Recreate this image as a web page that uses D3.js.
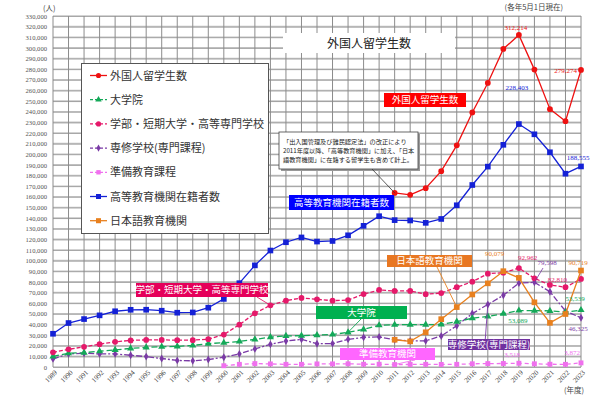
<!DOCTYPE html>
<html>
<head>
<meta charset="utf-8">
<script src="https://cdn.jsdelivr.net/npm/d3@7"></script>
<style>
body { margin: 0; background: #fff; }
svg { display: block; }
.num { font-family: "Liberation Serif", "DejaVu Serif", serif; }
.jp { font-family: "Noto Sans CJK JP", sans-serif; }
</style>
</head>
<body>
<div id="chart"></div>
<script>
// years on the x axis
var years = [1989, 1990, 1991, 1992, 1993, 1994, 1995, 1996, 1997, 1998,
             1999, 2000, 2001, 2002, 2003, 2004, 2005, 2006, 2007, 2008,
             2009, 2010, 2011, 2012, 2013, 2014, 2015, 2016, 2017, 2018,
             2019, 2020, 2021, 2022, 2023];

// series values (people), null = not counted that year
var totalStudents = [null, null, null, null, null, null, null, null, null, null,
                     null, null, null, null, null, null, null, null, null, null,
                     null, null, 163697, 161848, 168145, 184155, 208379, 239287, 267042, 298980,
                     312214, 279597, 242444, 231146, 279274];
var graduate = [10000, 12900, 13500, 14800, 16000, 17500, 18500, 19000, 19400, 20300,
                22000, 22800, 24000, 26000, 28000, 29200, 29500, 30000, 30500, 32600,
                35400, 39200, 39700, 39800, 39800, 40000, 42600, 45800, 47500, 50200,
                53089, 53000, 52800, 51500, 53539];
var undergrad = [13800, 16600, 19000, 21500, 23700, 25000, 25500, 25500, 25200, 25200,
                 26200, 30500, 39800, 50500, 58000, 62400, 64900, 63600, 62400, 62900,
                 68600, 72400, 71500, 71500, 68400, 69500, 75000, 80200, 87700, 88700,
                 92962, 83400, 77100, 75000, 82810];
var vocational = [7600, 12300, 12900, 12300, 12300, 11000, 9800, 8000, 6200, 5800,
                  7000, 9200, 12300, 17000, 21300, 24400, 26000, 21900, 22000, 26000,
                  27900, 28300, 25500, 24600, 24600, 29200, 38800, 50235, 58771, 67475,
                  78844, 79598, 70800, 52600, 46325];
var prepCourse = [null, null, null, null, null, null, null, null, null, null,
                  null, 1200, 2500, 3200, 2900, 2500, 2500, 2900, 2900, 3000,
                  2600, 2600, 2300, 2400, 2500, 2400, 2500, 3000, 3200, 3300,
                  3518, 3000, 2600, 2500, 3872];
var higherEd = [31251, 41347, 45066, 48561, 52405, 53787, 53847, 52921, 51047, 51298,
                55755, 64011, 78812, 95550, 109508, 117302, 121812, 117927, 118498, 123829,
                132720, 141774, 138075, 137756, 135519, 139185, 152062, 171122, 188384, 208901,
                228403, 218783, 201877, 181741, 188555];
var langSchool = [null, null, null, null, null, null, null, null, null, null,
                  null, null, null, null, null, null, null, null, null, null,
                  null, null, 25622, 24092, 32626, 44970, 56317, 68165, 78658, 90079,
                  83811, 60814, 41500, 49800, 90719];

var yTicks = [0, 10000, 20000, 30000, 40000, 50000, 60000, 70000, 80000, 90000, 100000,
              110000, 120000, 130000, 140000, 150000, 160000, 170000, 180000, 190000, 200000,
              210000, 220000, 230000, 240000, 250000, 260000, 270000, 280000, 290000, 300000,
              310000, 320000, 330000];

var legendNames = ["外国人留学生数", "大学院", "学部・短期大学・高等専門学校", "専修学校(専門課程)",
                   "準備教育課程", "高等教育機関在籍者数", "日本語教育機関"];

// styling for each series (same order as legendNames)
var series = [
  {values: totalStudents, color: "#ee1111", dash: null, symbol: d3.symbolCircle, size: 26},
  {values: graduate, color: "#14a858", dash: "6,3", symbol: d3.symbolTriangle, size: 22},
  {values: undergrad, color: "#e5196a", dash: "4,2", symbol: d3.symbolCircle, size: 26},
  {values: vocational, color: "#7a3aa6", dash: "6,2,2,2", symbol: d3.symbolDiamond, size: 18},
  {values: prepCourse, color: "#f070ee", dash: "4,3", symbol: d3.symbolSquare, size: 24},
  {values: higherEd, color: "#1421d6", dash: null, symbol: d3.symbolSquare, size: 32},
  {values: langSchool, color: "#e8801e", dash: null, symbol: d3.symbolSquare, size: 32}
];
var drawOrder = [4, 3, 1, 2, 6, 5, 0];

var W = 601, H = 398;
var svg = d3.select("#chart").append("svg")
    .attr("width", W)
    .attr("height", H);

var x = d3.scaleLinear().domain([1989, 2023]).range([53, 581]);
var y = d3.scaleLinear().domain([0, 330000]).range([367, 16]);

// horizontal grid (light band + thin line)
svg.append("g")
    .selectAll("line")
    .data(yTicks)
    .enter()
    .append("line")
    .attr("x1", x(1989)).attr("x2", x(2023))
    .attr("y1", function(d) { return y(d); })
    .attr("y2", function(d) { return y(d); })
    .attr("stroke", "#c4c4c4")
    .attr("stroke-width", 1.6);

// vertical grid
svg.append("g")
    .selectAll("line")
    .data(years)
    .enter()
    .append("line")
    .attr("x1", function(d) { return x(d); })
    .attr("x2", function(d) { return x(d); })
    .attr("y1", y(330000)).attr("y2", y(0))
    .attr("stroke", "#8c8c8c")
    .attr("stroke-width", 1);

svg.append("g")
    .selectAll("line")
    .data(yTicks)
    .enter()
    .append("line")
    .attr("x1", x(1989)).attr("x2", x(2023))
    .attr("y1", function(d) { return y(d) + 0.5; })
    .attr("y2", function(d) { return y(d) + 0.5; })
    .attr("stroke", "#8c8c8c")
    .attr("stroke-width", 0.6);

// y axis labels
var yAxis = svg.append("g")
    .attr("transform", "translate(" + x(1989) + ",0)")
    .call(d3.axisLeft(y).tickValues(yTicks).tickFormat(d3.format(",")).tickSize(0).tickPadding(6));
yAxis.select(".domain").remove();
yAxis.selectAll("text")
    .attr("class", "num")
    .style("font-size", "6.6px")
    .attr("fill", "#555");

// x axis labels
var xAxis = svg.append("g")
    .attr("transform", "translate(0," + y(0) + ")")
    .call(d3.axisBottom(x).tickValues(years).tickFormat(d3.format("d")).tickSize(0));
xAxis.select(".domain").remove();
xAxis.selectAll("text")
    .attr("class", "num")
    .style("font-size", "7px")
    .attr("fill", "#444")
    .style("text-anchor", "end")
    .attr("dx", "-0.2em")
    .attr("dy", "0.6em")
    .attr("transform", "rotate(-45)");

// title box
svg.append("rect")
    .attr("x", 283).attr("y", 33).attr("width", 172).attr("height", 20)
    .attr("fill", "#fff");
svg.append("text")
    .attr("class", "jp")
    .attr("x", 369).attr("y", 47.5)
    .attr("text-anchor", "middle")
    .style("font-size", "12px")
    .attr("fill", "#222")
    .text("外国人留学生数");

svg.append("text").attr("class", "jp")
    .attr("x", 43).attr("y", 11)
    .style("font-size", "7.5px").attr("fill", "#444")
    .text("(人)");
svg.append("text").attr("class", "jp")
    .attr("x", 563).attr("y", 10).attr("text-anchor", "end")
    .style("font-size", "7.5px").attr("fill", "#444")
    .text("(各年5月1日現在)");
svg.append("text").attr("class", "jp")
    .attr("x", 584).attr("y", 393).attr("text-anchor", "end")
    .style("font-size", "7.5px").attr("fill", "#444")
    .text("(年度)");

// lines and markers
drawOrder.forEach(function(i) {
    var s = series[i];
    var pts = years.map(function(yr, j) { return {year: yr, value: s.values[j]}; })
        .filter(function(d) { return d.value != null; });
    svg.append("path")
        .datum(pts)
        .attr("fill", "none")
        .attr("stroke", s.color)
        .attr("stroke-width", 1.3)
        .attr("stroke-dasharray", s.dash)
        .attr("d", d3.line()
            .x(function(d) { return x(d.year); })
            .y(function(d) { return y(d.value); }));
    svg.append("g")
        .selectAll("path")
        .data(pts)
        .enter()
        .append("path")
        .attr("transform", function(d) { return "translate(" + x(d.year) + "," + y(d.value) + ")"; })
        .attr("d", d3.symbol().type(s.symbol).size(s.size))
        .attr("fill", s.color);
});

// legend
var lg = svg.append("g");
lg.append("rect")
    .attr("x", 81.5).attr("y", 63.5).attr("width", 187).attr("height", 170)
    .attr("fill", "#fff").attr("stroke", "#555").attr("stroke-width", 1);
legendNames.forEach(function(name, i) {
    var s = series[i];
    var ly = 75.5 + i * 24.2;
    lg.append("line")
        .attr("x1", 90).attr("x2", 107).attr("y1", ly).attr("y2", ly)
        .attr("stroke", s.color).attr("stroke-width", 1.3)
        .attr("stroke-dasharray", s.dash ? "3,2" : null);
    lg.append("path")
        .attr("transform", "translate(98.5," + ly + ")")
        .attr("d", d3.symbol().type(s.symbol).size(s.size * 0.8))
        .attr("fill", s.color);
    lg.append("text")
        .attr("class", "jp")
        .attr("x", 110).attr("y", ly + 4)
        .style("font-size", "11px")
        .attr("fill", "#333")
        .text(name);
});

// note box with shadow
svg.append("rect")
    .attr("x", 281).attr("y", 134).attr("width", 139).attr("height", 37)
    .attr("fill", "#999");
svg.append("rect")
    .attr("x", 279).attr("y", 132).attr("width", 139).attr("height", 37)
    .attr("fill", "#fff").attr("stroke", "#444").attr("stroke-width", 0.8);
var noteLines = ["「出入国管理及び難民認定法」の改正により",
                 "2011年度以降、「高等教育機関」に加え、「日本",
                 "語教育機関」に在籍する留学生も含めて計上。"];
noteLines.forEach(function(t, i) {
    svg.append("text").attr("class", "jp")
        .attr("x", 283).attr("y", 144 + i * 9)
        .style("font-size", "6.2px").attr("fill", "#222")
        .text(t);
});
svg.append("line")
    .attr("x1", 372).attr("y1", 169)
    .attr("x2", x(2011)).attr("y2", y(163697))
    .attr("stroke", "#333").attr("stroke-width", 0.8);

// leader lines to the callouts
var leaders = [
    {x1: 257, y1: 297, year: 2003, value: 58000, color: "#e5196a"},
    {x1: 361, y1: 319, year: 2008, value: 32600, color: "#14a858"},
    {x1: 437, y1: 267, year: 2015, value: 56317, color: "#e8801e"},
    {x1: 485, y1: 343, year: 2017, value: 58771, color: "#7a3aa6"},
    {x1: 415, y1: 360, year: 2011, value: 2300, color: "#f070ee"}
];
leaders.forEach(function(l) {
    svg.append("line")
        .attr("x1", l.x1).attr("y1", l.y1)
        .attr("x2", x(l.year)).attr("y2", y(l.value))
        .attr("stroke", l.color).attr("stroke-width", 0.9);
});

// coloured callouts
var callouts = [
    {text: "外国人留学生数", x: 384, y: 93, w: 82, h: 14, fill: "#ff0000"},
    {text: "高等教育機関在籍者数", x: 289, y: 195, w: 105, h: 15, fill: "#0000ff"},
    {text: "学部・短期大学・高等専門学校", x: 136, y: 283, w: 132, h: 14, fill: "#e5005a"},
    {text: "大学院", x: 316, y: 306, w: 91, h: 13, fill: "#00b050"},
    {text: "日本語教育機関", x: 387, y: 255, w: 85, h: 12, fill: "#e87722"},
    {text: "準備教育機関", x: 340, y: 348, w: 95, h: 12, fill: "#ff66ff"},
    {text: "専修学校(専門課程)", x: 448, y: 339, w: 82, h: 11, fill: "#7030a0"}
];
callouts.forEach(function(c) {
    svg.append("rect")
        .attr("x", c.x).attr("y", c.y).attr("width", c.w).attr("height", c.h)
        .attr("fill", c.fill);
    svg.append("text").attr("class", "jp")
        .attr("x", c.x + c.w / 2).attr("y", c.y + c.h / 2 + 3.3)
        .attr("text-anchor", "middle")
        .style("font-size", "9.5px")
        .attr("fill", "#fff")
        .text(c.text);
});

// value labels
var valueLabels = [
    {si: 0, year: 2019, anchor: "middle", dx: -3, dy: -5},
    {si: 0, year: 2023, anchor: "end", dx: -4, dy: 3},
    {si: 5, year: 2019, anchor: "middle", dx: -2, dy: -34},
    {si: 5, year: 2023, anchor: "middle", dx: -3, dy: -6},
    {si: 6, year: 2018, anchor: "end", dx: 1, dy: -15},
    {si: 2, year: 2019, anchor: "start", dx: -1, dy: -8},
    {si: 3, year: 2020, anchor: "start", dx: 3, dy: -17},
    {si: 6, year: 2023, anchor: "middle", dx: -3, dy: -6},
    {si: 2, year: 2023, anchor: "end", dx: -14, dy: 3},
    {si: 1, year: 2023, anchor: "middle", dx: -6, dy: -9},
    {si: 1, year: 2019, anchor: "middle", dx: -1, dy: 12},
    {si: 3, year: 2023, anchor: "middle", dx: -3, dy: 13},
    {si: 4, year: 2019, anchor: "end", dx: 1, dy: -6},
    {si: 4, year: 2023, anchor: "end", dx: -1, dy: -8}
];
valueLabels.forEach(function(v) {
    var s = series[v.si];
    var val = s.values[years.indexOf(v.year)];
    svg.append("text").attr("class", "num")
        .attr("x", x(v.year) + v.dx).attr("y", y(val) + v.dy)
        .attr("text-anchor", v.anchor)
        .style("font-size", "7px")
        .attr("fill", s.color)
        .text(d3.format(",")(val));
});
// leader for the 79,598 label
svg.append("line")
    .attr("x1", 543).attr("y1", 268)
    .attr("x2", x(2020)).attr("y2", y(79598))
    .attr("stroke", "#7a3aa6").attr("stroke-width", 0.8);
</script>
</body>
</html>
